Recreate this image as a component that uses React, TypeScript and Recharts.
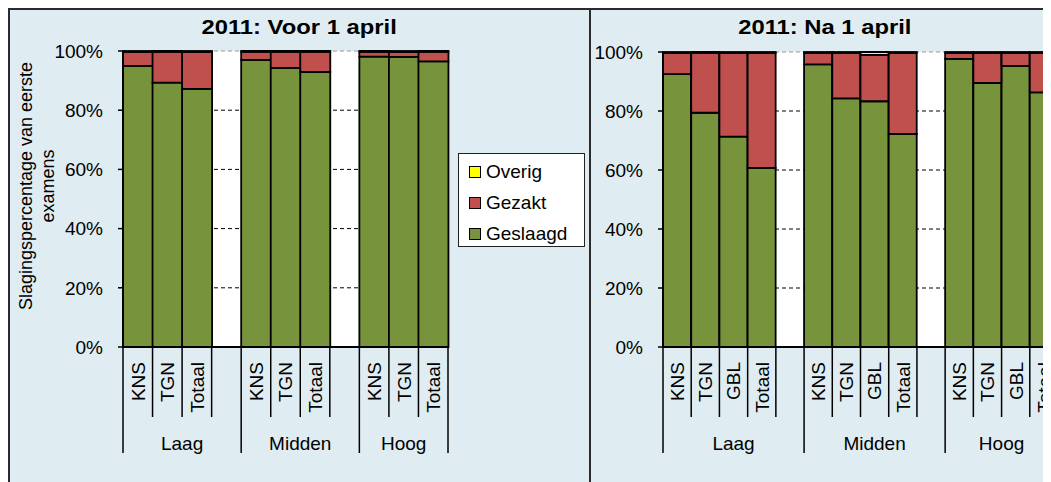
import React from "react";
import { BarChart, Bar, XAxis, YAxis, CartesianGrid } from "recharts";

const groups = ["Laag", "Midden", "Hoog"];
const voorTypes = ["KNS", "TGN", "Totaal"];
const naTypes = ["KNS", "TGN", "GBL", "Totaal"];

// 2011: Voor 1 april (KNS, TGN, Totaal per groep)
const voorGeslaagd = [95.0, 89.3, 87.2, 97.0, 94.3, 92.9, 98.1, 98.0, 96.5];
const voorGezakt = [4.7, 10.4, 12.5, 2.7, 5.4, 6.8, 1.6, 1.7, 3.2];
const voorOverig = [0.3, 0.3, 0.3, 0.3, 0.3, 0.3, 0.3, 0.3, 0.3];

// 2011: Na 1 april (KNS, TGN, GBL, Totaal per groep)
const naGeslaagd = [92.5, 79.4, 71.3, 60.7, 95.8, 84.3, 83.3, 72.2, 97.7, 89.5, 95.3, 86.3];
const naGezakt = [7.2, 20.3, 28.4, 39.0, 3.9, 15.4, 15.7, 27.5, 2.0, 10.2, 4.4, 13.4];
const naOverig = [0.3, 0.3, 0.3, 0.3, 0.3, 0.3, 1.0, 0.3, 0.3, 0.3, 0.3, 0.3];

const yTicks = [0, 20, 40, 60, 80, 100];
const legendItems = [
  { name: "Overig", color: "#ffff00" },
  { name: "Gezakt", color: "#c0504d" },
  { name: "Geslaagd", color: "#77933c" },
];

const FONT = "'Liberation Sans', Arial, Helvetica, sans-serif";
const PANEL_BG = "#dfedf2";
const BORDER = "#2b2b2b";

function buildRows(types, geslaagd, gezakt, overig) {
  const rows = [];
  groups.forEach((g, gi) => {
    const last = gi === groups.length - 1;
    types.forEach((t, ti) => {
      const k = gi * types.length + ti;
      rows.push({
        id: `${g}-${t}`,
        label: t,
        group: g,
        first: ti === 0,
        span: types.length + (last ? 0 : 1),
        Geslaagd: geslaagd[k],
        Gezakt: gezakt[k],
        Overig: overig[k],
      });
    });
    if (!last) rows.push({ id: `${g}-gap`, label: "", group: g, first: false, span: 0 });
  });
  return rows;
}

const voorRows = buildRows(voorTypes, voorGeslaagd, voorGezakt, voorOverig);
const naRows = buildRows(naTypes, naGeslaagd, naGezakt, naOverig);

function makeTick(rows, slot) {
  return (props) => {
    const { x, y, payload } = props;
    const index = props.index ?? payload.index;
    const row = rows[index];
    if (!row) return null;
    const left = x - slot / 2;
    const isLast = index === rows.length - 1;
    const ly = y + 15;
    return (
      <g>
        <line x1={left} x2={left} y1={y} y2={y + (row.first ? 106 : 70)} stroke="#000" strokeWidth={1.5} />
        {isLast && (
          <line x1={x + slot / 2} x2={x + slot / 2} y1={y} y2={y + 106} stroke="#000" strokeWidth={1.5} />
        )}
        {row.label && (
          <text
            x={x}
            y={ly}
            dy="0.36em"
            transform={`rotate(-90, ${x}, ${ly})`}
            textAnchor="end"
            fill="#000"
            fontSize={19}
            fontFamily={FONT}
          >
            {row.label}
          </text>
        )}
        {row.first && (
          <text
            x={left + (row.span * slot) / 2}
            y={y + 103}
            textAnchor="middle"
            fill="#000"
            fontSize={19}
            fontFamily={FONT}
          >
            {row.group}
          </text>
        )}
      </g>
    );
  };
}

function YTitle(props) {
  const vb = props.viewBox || { x: 0, y: 41, width: 113, height: 296 };
  const cy = vb.y + vb.height / 2 - 13;
  const lines = [
    { text: "Slagingspercentage van eerste", cx: vb.x + 16 },
    { text: "examens", cx: vb.x + 38 },
  ];
  return (
    <g>
      {lines.map((l) => (
        <text
          key={l.text}
          x={l.cx}
          y={cy}
          dy="0.35em"
          transform={`rotate(-90, ${l.cx}, ${cy})`}
          textAnchor="middle"
          fill="#000"
          fontSize={18}
          fontFamily={FONT}
        >
          {l.text}
        </text>
      ))}
    </g>
  );
}

function Panel({ rows, width, yWidth, top, right, slot, withTitle }) {
  return (
    <BarChart
      width={width}
      height={470}
      data={rows}
      margin={{ top, right, left: 0, bottom: 0 }}
      barCategoryGap={0}
      barGap={0}
      style={{ fontFamily: FONT }}
    >
      <CartesianGrid
        vertical={false}
        horizontalValues={[20, 40, 60, 80]}
        stroke="#000"
        strokeDasharray="4 3"
        fill="#ffffff"
        fillOpacity={1}
      />
      <CartesianGrid vertical={false} horizontalValues={[100]} stroke="#9a9a9a" strokeDasharray="4 3" />
      <XAxis
        dataKey="id"
        interval={0}
        height={133}
        tickLine={false}
        tickSize={0}
        tickMargin={0}
        axisLine={{ stroke: "#000", strokeWidth: 2 }}
        tick={makeTick(rows, slot)}
      />
      <YAxis
        type="number"
        domain={[0, 100]}
        ticks={yTicks}
        width={yWidth}
        tickSize={5}
        tickMargin={15}
        tickFormatter={(v) => `${v}%`}
        tick={{ fill: "#000", fontSize: 19, fontFamily: FONT }}
        tickLine={{ stroke: "#000", strokeWidth: 1.5 }}
        axisLine={{ stroke: "#000", strokeWidth: 2 }}
        label={withTitle ? { content: (p) => <YTitle {...p} /> } : undefined}
      />
      <Bar dataKey="Geslaagd" stackId="s" fill="#77933c" stroke="#000" strokeWidth={1.8} isAnimationActive={false} />
      <Bar dataKey="Gezakt" stackId="s" fill="#c0504d" stroke="#000" strokeWidth={1.8} isAnimationActive={false} />
      <Bar dataKey="Overig" stackId="s" fill="#ffff00" stroke="#000" strokeWidth={1.8} isAnimationActive={false} />
    </BarChart>
  );
}

function Title({ text, width }) {
  return (
    <div
      style={{
        position: "absolute",
        left: 0,
        top: 6,
        width,
        height: 22,
        lineHeight: "22px",
        textAlign: "center",
        fontFamily: FONT,
        fontWeight: "bold",
        fontSize: 20,
        color: "#000",
        zIndex: 2,
      }}
    >
      <span style={{ display: "inline-block", transform: "scaleX(1.19)" }}>{text}</span>
    </div>
  );
}

function LegendBox() {
  return (
    <div
      style={{
        position: "absolute",
        left: 448,
        top: 143,
        width: 127,
        height: 94,
        boxSizing: "border-box",
        background: "#fff",
        border: "1.5px solid #222",
        fontFamily: FONT,
        fontSize: 19,
        color: "#000",
        zIndex: 2,
      }}
    >
      {legendItems.map((it, i) => (
        <div
          key={it.name}
          style={{ position: "absolute", left: 0, top: 7 + i * 31, height: 22, lineHeight: "22px", width: "100%" }}
        >
          <span
            style={{
              position: "absolute",
              left: 10,
              top: 5,
              width: 12,
              height: 12,
              boxSizing: "border-box",
              background: it.color,
              border: "1.5px solid #000",
            }}
          />
          <span style={{ position: "absolute", left: 27, top: 0 }}>{it.name}</span>
        </div>
      ))}
    </div>
  );
}

export default function App() {
  return (
    <div style={{ position: "relative", width: 1043, height: 474, overflow: "hidden" }}>
      <style>{"html,body{overflow:hidden}"}</style>
      <div
        style={{
          position: "absolute",
          left: 0,
          top: 0,
          width: 583,
          height: 500,
          boxSizing: "border-box",
          border: `2px solid ${BORDER}`,
          background: PANEL_BG,
        }}
      >
        <Title text="2011: Voor 1 april" width={579} />
        <Panel rows={voorRows} width={579} yWidth={113} top={41} right={141} slot={325 / 11} withTitle />
        <LegendBox />
      </div>
      <div
        style={{
          position: "absolute",
          left: 583,
          top: 0,
          width: 500,
          height: 500,
          boxSizing: "border-box",
          borderTop: `2px solid ${BORDER}`,
          background: PANEL_BG,
        }}
      >
        <Title text="2011: Na 1 april" width={468} />
        <Panel rows={naRows} width={498} yWidth={72} top={42} right={31} slot={395 / 14} />
      </div>
    </div>
  );
}
